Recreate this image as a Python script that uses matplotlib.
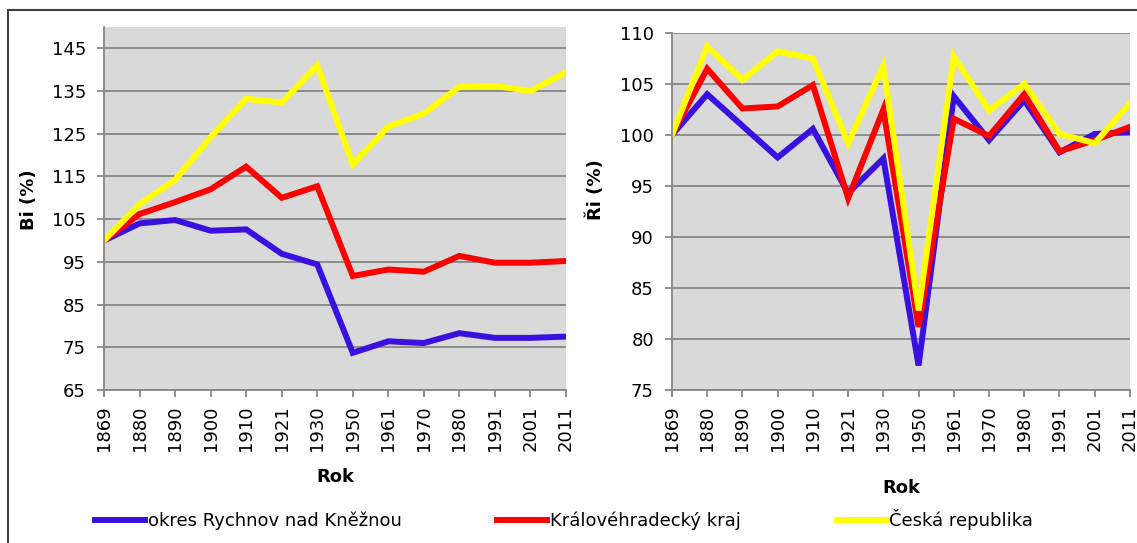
import matplotlib
matplotlib.use('Agg')
import matplotlib.pyplot as plt
from matplotlib.lines import Line2D
from matplotlib.patches import Rectangle

# Data
roky = ['1869', '1880', '1890', '1900', '1910', '1921', '1930', '1950',
        '1961', '1970', '1980', '1991', '2001', '2011']
nazvy = ['okres Rychnov nad Kněžnou', 'Královéhradecký kraj', 'Česká republika']
barvy = ['#3A10E0', '#FF0000', '#FFFF00']

# Bi (%)
bi_okres = [100, 104, 104.8, 102.3, 102.6, 96.9, 94.4, 73.7, 76.4, 76, 78.3, 77.2, 77.2, 77.5]
bi_kraj = [100, 106.2, 109, 112, 117.3, 110, 112.7, 91.7, 93.2, 92.7, 96.4, 94.8, 94.8, 95.2]
bi_cr = [100, 108.5, 114.2, 124.2, 133.2, 132.3, 141, 117.8, 126.7, 129.7, 136, 136.2, 135, 139.4]

# Ři (%)
ri_okres = [100, 104, 100.9, 97.8, 100.6, 94.3, 97.7, 77.4, 103.8, 99.5, 103.4, 98.3, 100.1, 100.3]
ri_kraj = [100, 106.5, 102.6, 102.8, 104.9, 93.8, 102.5, 81.2, 101.6, 99.9, 104, 98.4, 99.5, 100.8]
ri_cr = [100, 108.7, 105.4, 108.2, 107.5, 99.2, 106.8, 82.8, 107.7, 102.4, 105, 100.1, 99.2, 103.1]

fig = plt.figure(figsize=(11.37, 5.43), dpi=100)
plt.rcParams['font.family'] = 'DejaVu Sans'

grid_col = '#868686'
fs = 13


def styl(ax, ylim, yticks):
    ax.set_facecolor('#D9D9D9')
    ax.set_xlim(0, len(roky) - 1)
    ax.set_ylim(*ylim)
    ax.set_yticks(yticks)
    ax.set_xticks(range(len(roky)))
    ax.set_xticklabels(roky, rotation=90)
    ax.grid(axis='y', color=grid_col, linewidth=1.3)
    ax.set_axisbelow(True)
    for s in ['top', 'right']:
        ax.spines[s].set_visible(False)
    for s in ['left', 'bottom']:
        ax.spines[s].set_color(grid_col)
        ax.spines[s].set_linewidth(1.3)
    ax.tick_params(axis='y', length=5, width=1.3, color=grid_col, pad=8, labelsize=fs)
    ax.tick_params(axis='x', length=5, width=1.3, color=grid_col, pad=6, labelsize=fs)
    ax.set_xlabel('Rok', fontsize=fs, fontweight='bold')


# Levy graf
ax1 = fig.add_axes([0.0915, 0.2818, 0.4063, 0.6685])
for y, c in zip([bi_okres, bi_kraj, bi_cr], barvy):
    ax1.plot(range(len(roky)), y, color=c, linewidth=4.3, solid_joinstyle='miter')
styl(ax1, (65, 150), range(65, 146, 10))
ax1.xaxis.set_label_coords(0.5, -0.215)
fig.text(29 / 1137, 1 - 200 / 543, 'Bi (%)', rotation=90, fontsize=fs,
         fontweight='bold', ha='center', va='center')

# Pravy graf
ax2 = fig.add_axes([0.591, 0.2818, 0.4028, 0.6574])
for y, c in zip([ri_okres, ri_kraj, ri_cr], barvy):
    ax2.plot(range(len(roky)), y, color=c, linewidth=4.3, solid_joinstyle='miter')
styl(ax2, (75, 110), range(75, 111, 5))
ax2.xaxis.set_label_coords(0.5, -0.25)
fig.text(596 / 1137, 1 - 190 / 543, 'Ři (%)', rotation=90, fontsize=fs,
         fontweight='bold', ha='center', va='center')

# Legenda
handles = [Line2D([], [], color=c, linewidth=4.3) for c in barvy]
fig.legend(handles, nazvy, loc='center left', bbox_to_anchor=(95 / 1137, 1 - 520 / 543),
           ncol=3, frameon=False, fontsize=fs, handlelength=2.77,
           handletextpad=0.15, columnspacing=5.3, borderaxespad=0, borderpad=0)

# Ramecek
fig.add_artist(Rectangle((8 / 1137, -0.1), 1.1, 1.1 - 10 / 543, transform=fig.transFigure,
                         fill=False, edgecolor='#404040', linewidth=1.5, clip_on=False))

plt.savefig('out.png', dpi=100)
